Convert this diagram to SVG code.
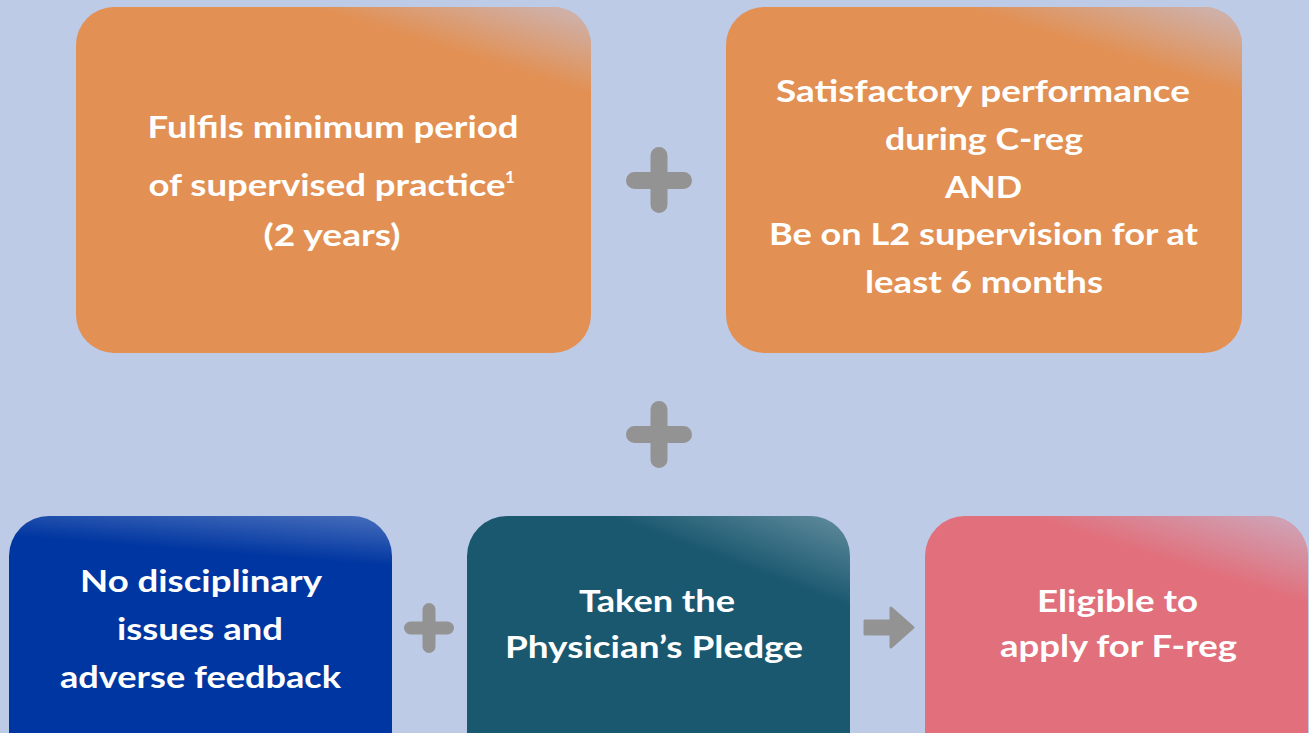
<svg xmlns="http://www.w3.org/2000/svg" width="1309" height="733" viewBox="0 0 1309 733">
<style>
  .t { font-family: "Lato", "Open Sans", "Liberation Sans", sans-serif; font-weight: 700; font-size: 31px; fill: #ffffff; text-anchor: middle; }
  .plus { stroke: #939393; stroke-linecap: round; fill: none; }
</style>
<defs>
  <linearGradient id="hlA" gradientUnits="userSpaceOnUse" x1="591" y1="7" x2="566" y2="87">
    <stop offset="0" stop-color="#C4C2D8" stop-opacity="0.75"/>
    <stop offset="1" stop-color="#C4C2D8" stop-opacity="0"/>
  </linearGradient>
  <linearGradient id="hlB" gradientUnits="userSpaceOnUse" x1="1242" y1="7" x2="1217" y2="87">
    <stop offset="0" stop-color="#C4C2D8" stop-opacity="0.75"/>
    <stop offset="1" stop-color="#C4C2D8" stop-opacity="0"/>
  </linearGradient>
  <linearGradient id="hlC" gradientUnits="userSpaceOnUse" x1="392" y1="516" x2="388" y2="566">
    <stop offset="0" stop-color="#ffffff" stop-opacity="0.28"/>
    <stop offset="1" stop-color="#ffffff" stop-opacity="0"/>
  </linearGradient>
  <linearGradient id="hlD" gradientUnits="userSpaceOnUse" x1="850" y1="516" x2="820" y2="596">
    <stop offset="0" stop-color="#ffffff" stop-opacity="0.32"/>
    <stop offset="1" stop-color="#ffffff" stop-opacity="0"/>
  </linearGradient>
  <linearGradient id="hlE" gradientUnits="userSpaceOnUse" x1="1308" y1="516" x2="1283" y2="596">
    <stop offset="0" stop-color="#C4C2D8" stop-opacity="0.7"/>
    <stop offset="1" stop-color="#C4C2D8" stop-opacity="0"/>
  </linearGradient>
</defs>
<rect x="0" y="0" width="1309" height="733" fill="#BDCBE6"/>

<g id="node-min-period">
  <rect x="76" y="7" width="515" height="346" rx="38" fill="#E29053"/>
  <rect x="76" y="7" width="515" height="346" rx="38" fill="url(#hlA)"/>
  <text class="t" x="333" y="138" textLength="371" lengthAdjust="spacingAndGlyphs">Fulfils minimum period</text>
  <text class="t" x="327" y="196" textLength="357" lengthAdjust="spacingAndGlyphs">of supervised practice</text>
  <text class="t" x="510" y="183" style="font-size:17px">1</text>
  <text class="t" x="332" y="246" textLength="137" lengthAdjust="spacingAndGlyphs">(2 years)</text>
</g>

<g id="node-satisfactory">
  <rect x="726" y="7" width="516" height="346" rx="38" fill="#E29053"/>
  <rect x="726" y="7" width="516" height="346" rx="38" fill="url(#hlB)"/>
  <text class="t" x="983" y="102" textLength="414" lengthAdjust="spacingAndGlyphs">Satisfactory performance</text>
  <text class="t" x="984" y="150" textLength="198" lengthAdjust="spacingAndGlyphs">during C-reg</text>
  <text class="t" x="983.5" y="198" textLength="77" lengthAdjust="spacingAndGlyphs">AND</text>
  <text class="t" x="983.5" y="245" textLength="429" lengthAdjust="spacingAndGlyphs">Be on L2 supervision for at</text>
  <text class="t" x="984" y="293" textLength="238" lengthAdjust="spacingAndGlyphs">least 6 months</text>
</g>

<g id="node-no-disciplinary">
  <rect x="9" y="516" width="383" height="260" rx="40" fill="#0036A1"/>
  <rect x="9" y="516" width="383" height="260" rx="40" fill="url(#hlC)"/>
  <text class="t" x="201" y="592" textLength="242" lengthAdjust="spacingAndGlyphs">No disciplinary</text>
  <text class="t" x="200" y="640" textLength="166" lengthAdjust="spacingAndGlyphs">issues and</text>
  <text class="t" x="200.5" y="688" textLength="281" lengthAdjust="spacingAndGlyphs">adverse feedback</text>
</g>

<g id="node-pledge">
  <rect x="467" y="516" width="383" height="260" rx="40" fill="#1A5870"/>
  <rect x="467" y="516" width="383" height="260" rx="40" fill="url(#hlD)"/>
  <text class="t" x="657" y="612" textLength="156" lengthAdjust="spacingAndGlyphs">Taken the</text>
  <text class="t" x="654" y="658" textLength="298" lengthAdjust="spacingAndGlyphs">Physician’s Pledge</text>
</g>

<g id="node-eligible">
  <rect x="925" y="516" width="383" height="260" rx="40" fill="#E1707C"/>
  <rect x="925" y="516" width="383" height="260" rx="40" fill="url(#hlE)"/>
  <text class="t" x="1117.5" y="612" textLength="161" lengthAdjust="spacingAndGlyphs">Eligible to</text>
  <text class="t" x="1118.5" y="657" textLength="237" lengthAdjust="spacingAndGlyphs">apply for F-reg</text>
</g>

<g id="connectors">
  <path class="plus" stroke-width="17" d="M634.5 180.5 H683.5 M659 155.5 V204.5"/>
  <path class="plus" stroke-width="17" d="M634.5 434.5 H683.5 M659 409.5 V459.5"/>
  <path class="plus" stroke-width="13" d="M410.5 628 H447.5 M429 609.5 V646.5"/>
  <path d="M865 621 H891 V608 L913 627.5 L891 647 V634 H865 Z" fill="#939393" stroke="#939393" stroke-width="3" stroke-linejoin="round"/>
</g>
</svg>
